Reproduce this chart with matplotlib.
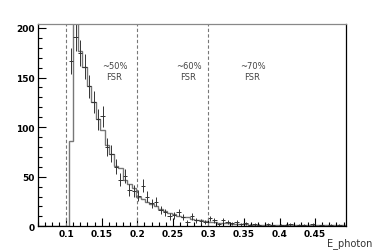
import numpy as np
import matplotlib
matplotlib.use("Agg")
import matplotlib.pyplot as plt
from matplotlib.ticker import MultipleLocator

# binning: 70 bins between 0.06 and 0.5
x_lo, x_hi, n_bins = 0.06, 0.5, 70

# simulated histogram (step line)
mc_counts = [0, 0, 0, 0, 0, 0, 0, 86, 230, 177,
             161, 141, 125, 108, 97, 82, 73, 61, 59, 47,
             43, 39, 30, 28, 24, 22, 20, 17, 15, 13,
             12, 10, 9, 9, 7, 6, 6, 5, 4, 4,
             3, 3, 3, 2, 2, 2, 2, 1, 1, 1,
             1, 1, 1, 1, 1, 1, 1, 1, 1, 1,
             1, 1, 1, 1, 1, 1, 1, 1, 1, 1]

# measured points (crosses with errors)
data_counts = [0, 0, 0, 0, 0, 0, 0, 167, 191, 175,
               161, 141, 125, 108, 111, 80, 73, 60, 47, 51,
               37, 36, 31, 41, 30, 23, 25, 16, 14, 10,
               11, 14, 9, 4, 10, 6, 5, 4, 8, 6,
               2, 6, 4, 3, 4, 2, 3, 1, 2, 1,
               0, 2, 1, 0, 1, 1, 2, 0, 1, 1,
               0, 2, 0, 1, 0, 1, 0, 1, 0, 1]

cut_lines = [0.1, 0.2, 0.3]
region_x = [0.168, 0.272, 0.362]
region_labels = ["~50%\nFSR", "~60%\nFSR", "~70%\nFSR"]

edges = np.linspace(x_lo, x_hi, n_bins + 1)
centers = 0.5 * (edges[:-1] + edges[1:])
w = edges[1] - edges[0]
mc = np.array(mc_counts, dtype=float)
dat = np.array(data_counts, dtype=float)

fig = plt.figure(figsize=(3.74, 2.53), dpi=100)
ax = fig.add_axes([0.1008, 0.1016, 0.8235, 0.7996])

ax.stairs(mc, edges, color="#777777", lw=1.0)

m = dat > 0
ax.errorbar(centers[m], dat[m], yerr=np.sqrt(dat[m]), xerr=w / 2,
            fmt="none", ecolor="#333333", elinewidth=0.7, capsize=0)

for xc in cut_lines:
    ax.axvline(xc, color="#777777", lw=0.8, ls=(0, (3, 2)))

for xt, lab in zip(region_x, region_labels):
    ax.text(xt, 157, lab, ha="center", va="center", fontsize=6,
            color="#444444", linespacing=1.3)

ax.set_xlim(0.06, 0.493)
ax.set_ylim(0, 204)

ax.xaxis.set_major_locator(MultipleLocator(0.05))
ax.xaxis.set_minor_locator(MultipleLocator(0.01))
ax.yaxis.set_major_locator(MultipleLocator(50))
ax.yaxis.set_minor_locator(MultipleLocator(10))
ax.tick_params(which="both", direction="in", top=False, right=False,
               labelsize=6.5, pad=2, width=0.8)
ax.tick_params(which="major", length=6)
ax.tick_params(which="minor", length=3)
ax.set_xticks([0.1, 0.15, 0.2, 0.25, 0.3, 0.35, 0.4, 0.45])
ax.set_xticklabels(["0.1", "0.15", "0.2", "0.25", "0.3", "0.35", "0.4", "0.45"],
                   fontweight="bold")
ax.set_yticks([0, 50, 100, 150, 200])
ax.set_yticklabels(["0", "50", "100", "150", "200"], fontweight="bold")

ax.spines["top"].set_color("#888888")
for s in ax.spines.values():
    s.set_linewidth(0.9)

fig.text(0.995, 0.015, "E_photon", ha="right", va="bottom", fontsize=7,
         color="#333333")

fig.savefig("out.png", dpi=100)
